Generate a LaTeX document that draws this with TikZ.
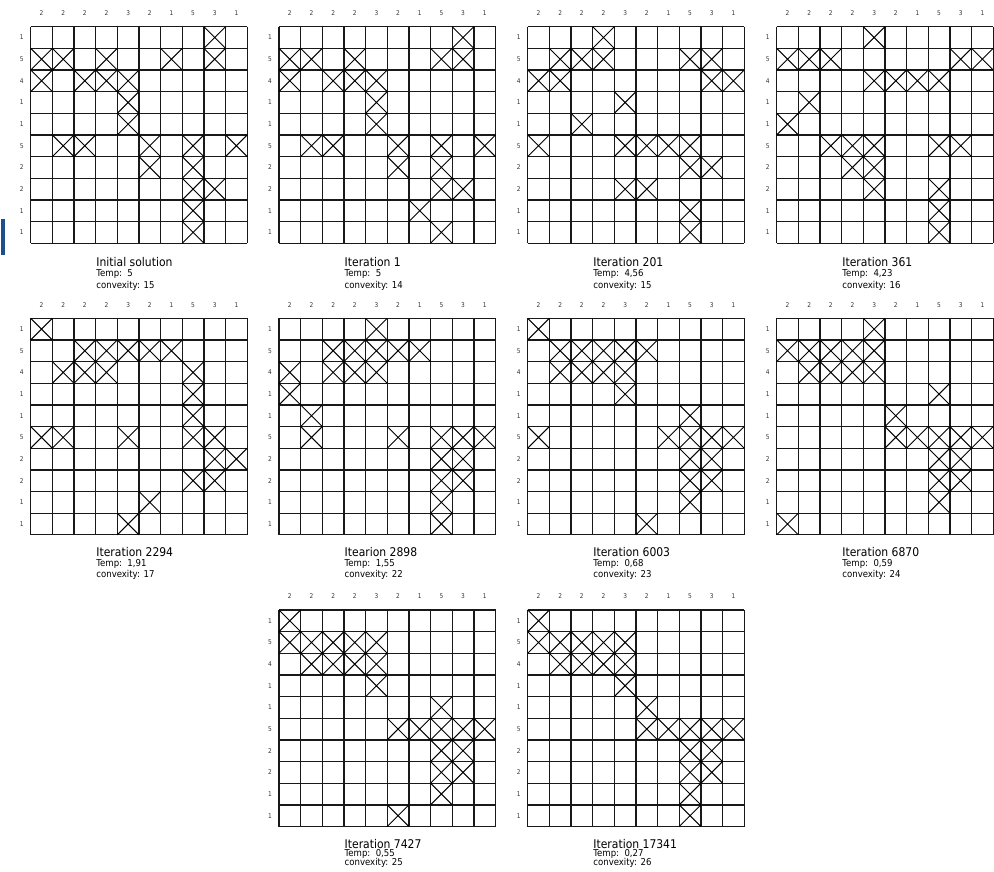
\documentclass[tikz,border=0pt]{standalone}
\usepackage{fontspec}
\setmainfont{DejaVu Sans}[FakeStretch=0.9]
\definecolor{barblue}{RGB}{31,78,140}
\definecolor{lblgray}{RGB}{50,50,50}
\definecolor{gridcol}{RGB}{25,25,25}
\def\cs{21.65}
\tikzset{
  gridline/.style={draw=gridcol, line width=1.3pt},
  crossline/.style={draw=black, line width=0.95pt},
  lbl/.style={inner sep=0pt, text=lblgray, font=\fontsize{6.5}{7}\selectfont},
  captitle/.style={inner sep=0pt, anchor=base west, font=\fontsize{12}{13}\selectfont},
  capsub/.style={inner sep=0pt, anchor=base west, font=\fontsize{9.5}{10}\selectfont},
}
\newcommand\puzzle[4]{%
  \begin{scope}[shift={(#1,#2)}]
    \foreach \i in {0,...,10} {
      \draw[gridline] (\i*\cs,0) -- (\i*\cs,10*\cs);
      \draw[gridline] (0,\i*\cs) -- (10*\cs,\i*\cs);
    }
    \foreach \r/\c in {#4} {
      \draw[crossline] (\c*\cs,\r*\cs) -- (\c*\cs+\cs,\r*\cs+\cs)
                       (\c*\cs+\cs,\r*\cs) -- (\c*\cs,\r*\cs+\cs);
    }
    \foreach \v [count=\k from 0] in {2,2,2,2,3,2,1,5,3,1}
      \node[lbl] (#3-c\k) at ({(\k+0.5)*\cs},-13.5) {\v};
    \foreach \v [count=\k from 0] in {1,5,4,1,1,5,2,2,1,1}
      \node[lbl] (#3-r\k) at (-9,{(\k+0.5)*\cs}) {\v};
  \end{scope}
}
\newcommand\puzcaption[8]{%
  \node[captitle] (#2-title) at (#1+65.5,#6) {#3};
  \node[capsub] (#2-temp) at (#1+65.5,#7) {Temp:\ \ #4};
  \node[capsub] (#2-conv) at (#1+65.5,#8) {convexity: #5};
}
\begin{document}
\begin{tikzpicture}[x=1pt,y=-1pt]
\useasboundingbox (0,0) rectangle (994,872);
\node[fill=barblue, minimum width=4pt, minimum height=36pt, inner sep=0pt, anchor=north west] (bar) at (1,219) {};

% Row 1
\puzzle{30.7}{26.7}{g1}{0/8,1/0,1/1,1/3,1/6,1/8,2/0,2/2,2/3,2/4,3/4,4/4,5/1,5/2,5/5,5/7,5/9,6/5,6/7,7/7,7/8,8/7,9/7}
\puzzle{279}{26.7}{g2}{0/8,1/0,1/1,1/3,1/7,1/8,2/0,2/2,2/3,2/4,3/4,4/4,5/1,5/2,5/5,5/7,5/9,6/5,6/7,7/7,7/8,8/6,9/7}
\puzzle{527.7}{26.7}{g3}{0/3,1/1,1/2,1/3,1/7,1/8,2/0,2/1,2/8,2/9,3/4,4/2,5/0,5/4,5/5,5/6,5/7,6/7,6/8,7/4,7/5,8/7,9/7}
\puzzle{776.7}{26.7}{g4}{0/4,1/0,1/1,1/2,1/8,1/9,2/4,2/5,2/6,2/7,3/1,4/0,5/2,5/3,5/4,5/7,5/8,6/3,6/4,7/4,7/7,8/7,9/7}
\puzcaption{30.7}{g1}{Initial solution}{5}{15}{266}{276.6}{288.3}
\puzcaption{279}{g2}{Iteration 1}{5}{14}{266}{276.6}{288.3}
\puzcaption{527.7}{g3}{Iteration 201}{4,56}{15}{266}{276.6}{288.3}
\puzcaption{776.7}{g4}{Iteration 361}{4,23}{16}{266}{276.6}{288.3}

% Row 2
\puzzle{30.7}{318.3}{g5}{0/0,1/2,1/3,1/4,1/5,1/6,2/1,2/2,2/3,2/7,3/7,4/7,5/0,5/1,5/4,5/7,5/8,6/8,6/9,7/7,7/8,8/5,9/4}
\puzzle{279}{318.3}{g6}{0/4,1/2,1/3,1/4,1/5,1/6,2/0,2/2,2/3,2/4,3/0,4/1,5/1,5/5,5/7,5/8,5/9,6/7,6/8,7/7,7/8,8/7,9/7}
\puzzle{527.7}{318.3}{g7}{0/0,1/1,1/2,1/3,1/4,1/5,2/1,2/2,2/3,2/4,3/4,4/7,5/0,5/6,5/7,5/8,5/9,6/7,6/8,7/7,7/8,8/7,9/5}
\puzzle{776.7}{318.3}{g8}{0/4,1/0,1/1,1/2,1/3,1/4,2/1,2/2,2/3,2/4,3/7,4/5,5/5,5/6,5/7,5/8,5/9,6/7,6/8,7/7,7/8,8/7,9/0}
\puzcaption{30.7}{g5}{Iteration 2294}{1,91}{17}{556.7}{566}{577.6}
\puzcaption{279}{g6}{Itearion 2898}{1,55}{22}{556.7}{566}{577.6}
\puzcaption{527.7}{g7}{Iteration 6003}{0,68}{23}{556.7}{566}{577.6}
\puzcaption{776.7}{g8}{Iteration 6870}{0,59}{24}{556.7}{566}{577.6}

% Row 3
\puzzle{279}{610}{g9}{0/0,1/0,1/1,1/2,1/3,1/4,2/1,2/2,2/3,2/4,3/4,4/7,5/5,5/6,5/7,5/8,5/9,6/7,6/8,7/7,7/8,8/7,9/5}
\puzzle{527.7}{610}{g10}{0/0,1/0,1/1,1/2,1/3,1/4,2/1,2/2,2/3,2/4,3/4,4/5,5/5,5/6,5/7,5/8,5/9,6/7,6/8,7/7,7/8,8/7,9/7}
\puzcaption{279}{g9}{Iteration 7427}{0,55}{25}{848.1}{856.6}{865.6}
\puzcaption{527.7}{g10}{Iteration 17341}{0,27}{26}{848.1}{856.6}{865.6}
\end{tikzpicture}
\end{document}
